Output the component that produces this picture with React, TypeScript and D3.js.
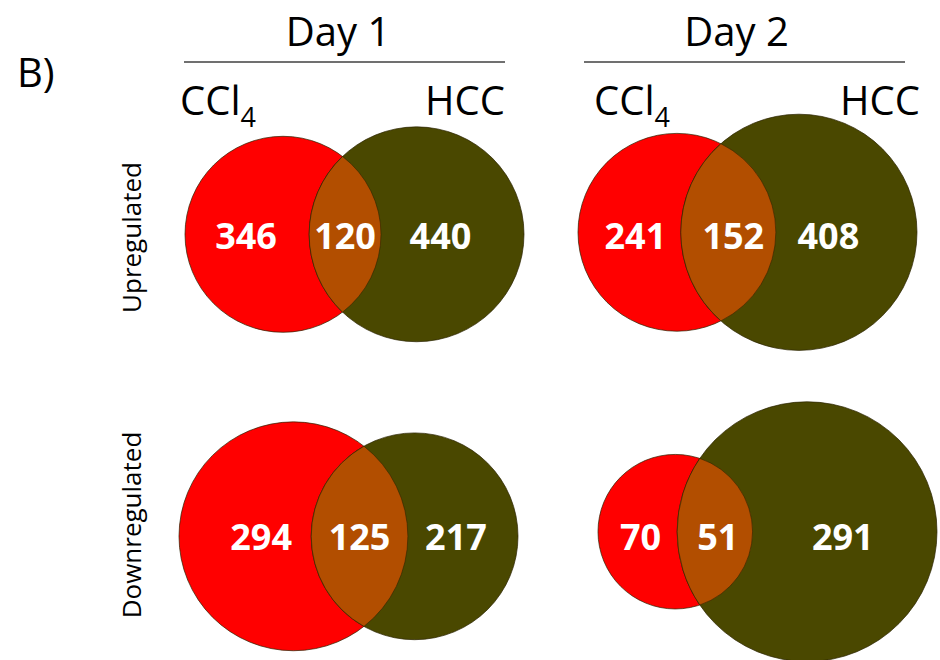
import React from "react";
import * as d3 from "d3";

// Gene counts per panel, in reading order:
// Upregulated Day 1, Upregulated Day 2, Downregulated Day 1, Downregulated Day 2
const onlyCCl4 = [346, 241, 294, 70];
const shared = [120, 152, 125, 51];
const onlyHCC = [440, 408, 217, 291];

const dayLabels = ["Day 1", "Day 2"];
const rowLabels = ["Upregulated", "Downregulated"];
const setLabels = ["CCl", "HCC"];
const panelTag = "B)";

// Layout
const W = 940;
const H = 660;
const FONT = "'Open Sans', 'DejaVu Sans', sans-serif";
const panelLeft = [185, 578, 179, 598];
const panelCy = [234.3, 232.3, 536.3, 531.7];
const panelWidth = 339;
const labelNudge = [
  [-1, 0, -12],
  [6, 5, -18],
  [16, 0, -7],
  [3, 3, -2],
];
const labelBaseline = [248.5, 248.5, 550, 550];
const dayCenter = [338, 736.5];
const ruleSpan = [
  [184, 505],
  [584, 905],
];
const colCCl4X = [180, 594];
const colHCCX = [505, 920];
const rowLabelCy = [237.5, 525];

const RED = "#ff0000";
const OLIVE = "#4a4800";
const LENS = "#b24e00";
const EDGE = "#2a2200";

// area of intersection of two circles with radii r1, r2 and centre distance d
function lensArea(r1: number, r2: number, d: number) {
  if (d >= r1 + r2) return 0;
  if (d <= Math.abs(r1 - r2)) return Math.PI * Math.min(r1, r2) ** 2;
  const a1 = Math.acos((d * d + r1 * r1 - r2 * r2) / (2 * d * r1));
  const a2 = Math.acos((d * d + r2 * r2 - r1 * r1) / (2 * d * r2));
  const t =
    0.5 *
    Math.sqrt((-d + r1 + r2) * (d + r1 - r2) * (d - r1 + r2) * (d + r1 + r2));
  return r1 * r1 * a1 + r2 * r2 * a2 - t;
}

// centre distance giving an overlap of the requested area (bisection)
function solveDistance(r1: number, r2: number, area: number) {
  let lo = Math.abs(r1 - r2);
  let hi = r1 + r2;
  for (let i = 0; i < 80; i++) {
    const mid = (lo + hi) / 2;
    if (lensArea(r1, r2, mid) > area) lo = mid;
    else hi = mid;
  }
  return (lo + hi) / 2;
}

function buildPanel(i: number) {
  const a = onlyCCl4[i] + shared[i];
  const b = onlyHCC[i] + shared[i];
  // unit geometry: area proportional to count
  const u1 = Math.sqrt(a / Math.PI);
  const u2 = Math.sqrt(b / Math.PI);
  const ud = solveDistance(u1, u2, shared[i]);
  const k = panelWidth / (u1 + ud + u2);
  const r = d3.scaleLinear().domain([0, 1]).range([0, k]);
  const r1 = r(u1);
  const r2 = r(u2);
  const d = r(ud);
  const cx1 = panelLeft[i] + r1;
  const cx2 = cx1 + d;
  const cy = panelCy[i];
  const ax = (d * d + r1 * r1 - r2 * r2) / (2 * d);
  const h = Math.sqrt(Math.max(0, r1 * r1 - ax * ax));
  const px = cx1 + ax;
  const lens = d3.path();
  lens.moveTo(px, cy - h);
  const large1 = ax < 0 ? 1 : 0;
  const large2 = ax > d ? 1 : 0;
  const lensD =
    `M${px},${cy - h}` +
    `A${r1},${r1} 0 ${large1} 1 ${px},${cy + h}` +
    `A${r2},${r2} 0 ${large2} 1 ${px},${cy - h}Z`;
  const lensLeft = cx2 - r2;
  const lensRight = cx1 + r1;
  const labelX = [
    (cx1 - r1 + lensLeft) / 2 + labelNudge[i][0],
    (lensLeft + lensRight) / 2 + labelNudge[i][1],
    (lensRight + cx2 + r2) / 2 + labelNudge[i][2],
  ];
  return { r1, r2, cx1, cx2, cy, lensD, labelX };
}

function VennPanel({ i }: { i: number }) {
  const g = buildPanel(i);
  const values = [onlyCCl4[i], shared[i], onlyHCC[i]];
  return (
    <g>
      <circle cx={g.cx1} cy={g.cy} r={g.r1} fill={RED} stroke={EDGE} strokeWidth={0.7} />
      <circle cx={g.cx2} cy={g.cy} r={g.r2} fill={OLIVE} stroke={EDGE} strokeWidth={0.7} />
      <path d={g.lensD} fill={LENS} stroke={EDGE} strokeWidth={0.7} strokeOpacity={0.8} />
      {values.map((v, j) => (
        <text
          key={j}
          x={g.labelX[j]}
          y={labelBaseline[i]}
          textAnchor="middle"
          fontFamily={FONT}
          fontWeight={700}
          fontSize={36}
          fill="#ffffff"
        >
          {v}
        </text>
      ))}
    </g>
  );
}

export default function App() {
  return (
    <div style={{ position: "absolute", left: 0, top: 0 }}>
      <svg width={W} height={H} viewBox={`0 0 ${W} ${H}`} style={{ display: "block", background: "#fff" }}>
        <text x={17} y={87} fontFamily={FONT} fontSize={40} fill="#000">
          {panelTag}
        </text>
        {dayLabels.map((t, c) => (
          <g key={t}>
            <text x={dayCenter[c]} y={46} textAnchor="middle" fontFamily={FONT} fontSize={40} fill="#000">
              {t}
            </text>
            <line
              x1={ruleSpan[c][0]}
              x2={ruleSpan[c][1]}
              y1={62}
              y2={62}
              stroke="#404040"
              strokeWidth={1.5}
            />
            <text x={colCCl4X[c]} y={115} fontFamily={FONT} fontSize={40} fill="#000">
              {setLabels[0]}
              <tspan fontSize={27} dy={12}>
                4
              </tspan>
            </text>
            <text x={colHCCX[c]} y={115} textAnchor="end" fontFamily={FONT} fontSize={40} fill="#000">
              {setLabels[1]}
            </text>
          </g>
        ))}
        {rowLabels.map((t, rIdx) => (
          <text
            key={t}
            transform={`translate(141,${rowLabelCy[rIdx]}) rotate(-90)`}
            textAnchor="middle"
            fontFamily={FONT}
            fontSize={26}
            fill="#000"
          >
            {t}
          </text>
        ))}
        {onlyCCl4.map((_, i) => (
          <VennPanel key={i} i={i} />
        ))}
      </svg>
    </div>
  );
}
